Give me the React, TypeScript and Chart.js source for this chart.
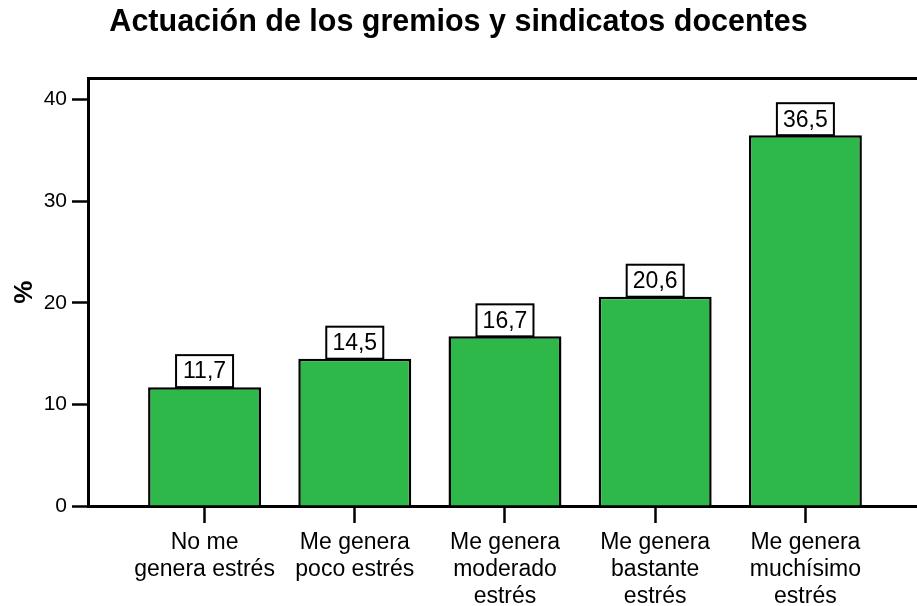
import React, { useEffect, useRef } from "react";
import { Chart, registerables } from "chart.js";

Chart.register(...registerables);

const TITLE = "Actuación de los gremios y sindicatos docentes";
const categories: string[][] = [
  ["No me", "genera estrés"],
  ["Me genera", "poco estrés"],
  ["Me genera", "moderado", "estrés"],
  ["Me genera", "bastante", "estrés"],
  ["Me genera", "muchísimo", "estrés"],
];
const values: number[] = [11.7, 14.5, 16.7, 20.6, 36.5];
const yTicks: number[] = [0, 10, 20, 30, 40];
const Y_MAX = 42.07;
const X_MIN = -0.776;
const X_MAX = 4.743;

const FONT = "'Liberation Sans', Arial, Helvetica, sans-serif";
const GREEN = "#2fb84a";

const labelBoxes = {
  id: "labelBoxes",
  afterDatasetsDraw(chart: any) {
    const ctx = chart.ctx;
    const meta = chart.getDatasetMeta(0);
    ctx.save();
    meta.data.forEach((bar: any, i: number) => {
      const w = 57;
      const h = 32;
      const x = bar.x - w / 2;
      const y = bar.y - h;
      ctx.fillStyle = "#ffffff";
      ctx.fillRect(x, y, w, h);
      ctx.lineWidth = 2;
      ctx.strokeStyle = "#000000";
      ctx.strokeRect(x, y, w, h);
      ctx.fillStyle = "#000000";
      ctx.font = `23px ${FONT}`;
      ctx.textAlign = "center";
      ctx.textBaseline = "middle";
      ctx.fillText(values[i].toFixed(1).replace(".", ","), bar.x, y + h / 2 + 1);
    });
    ctx.restore();
  },
};

export default function App() {
  const ref = useRef<HTMLCanvasElement | null>(null);

  useEffect(() => {
    document.body.style.margin = "0";
    if (!ref.current) return;
    const chart = new Chart(ref.current, {
      type: "bar",
      data: {
        datasets: [
          {
            data: values.map((v, i) => ({ x: i, y: v })),
            backgroundColor: GREEN,
            borderColor: "#000000",
            borderWidth: 2.5,
            categoryPercentage: 1,
            barPercentage: 0.752,
            xAxisID: "x",
            yAxisID: "y",
          } as any,
        ],
      },
      options: {
        responsive: false,
        animation: false,
        devicePixelRatio: 1,
        layout: { padding: 0 },
        plugins: {
          legend: { display: false },
          tooltip: { enabled: false },
          title: {
            display: true,
            text: TITLE,
            color: "#000000",
            font: { family: FONT, size: 30.5, weight: "bold", lineHeight: 1.2 },
            padding: { top: 4, bottom: 38 },
          },
        },
        scales: {
          x: {
            type: "linear",
            position: "bottom",
            min: X_MIN,
            max: X_MAX,
            offset: false,
            afterFit(scale: any) {
              scale.height = 100;
            },
            ticks: {
              stepSize: 1,
              includeBounds: false,
              autoSkip: false,
              maxRotation: 0,
              minRotation: 0,
              padding: 6,
              color: "#000000",
              font: { family: FONT, size: 23, lineHeight: 1.18 },
              callback: (v: any) => categories[v as number] ?? "",
            },
            grid: {
              display: true,
              offset: false,
              drawOnChartArea: false,
              drawTicks: true,
              tickLength: 17,
              tickColor: "#000000",
              tickWidth: 2.5,
            },
            border: { display: true, color: "#000000", width: 3 },
          },
          x2: {
            type: "linear",
            position: "top",
            min: X_MIN,
            max: X_MAX,
            afterFit(scale: any) {
              scale.height = 0;
            },
            ticks: { display: false },
            grid: { display: false, drawTicks: false },
            border: { display: true, color: "#000000", width: 3 },
          },
          y: {
            type: "linear",
            min: 0,
            max: Y_MAX,
            afterFit(scale: any) {
              scale.width = 88;
            },
            afterBuildTicks(scale: any) {
              scale.ticks = yTicks.map((v) => ({ value: v }));
            },
            ticks: {
              stepSize: 10,
              includeBounds: false,
              padding: 5,
              color: "#000000",
              font: { family: FONT, size: 21 },
            },
            grid: {
              display: true,
              drawOnChartArea: false,
              drawTicks: true,
              tickLength: 16,
              tickColor: "#000000",
              tickWidth: 2.5,
            },
            border: { display: true, color: "#000000", width: 3 },
            title: {
              display: true,
              text: "%",
              color: "#000000",
              font: { family: FONT, size: 26, weight: "bold", lineHeight: 1.2 },
              padding: { top: 9, bottom: 0 },
            },
          },
        },
      },
      plugins: [labelBoxes],
    } as any);
    return () => chart.destroy();
  }, []);

  return <canvas ref={ref} width={917} height={606} style={{ display: "block" }} />;
}
